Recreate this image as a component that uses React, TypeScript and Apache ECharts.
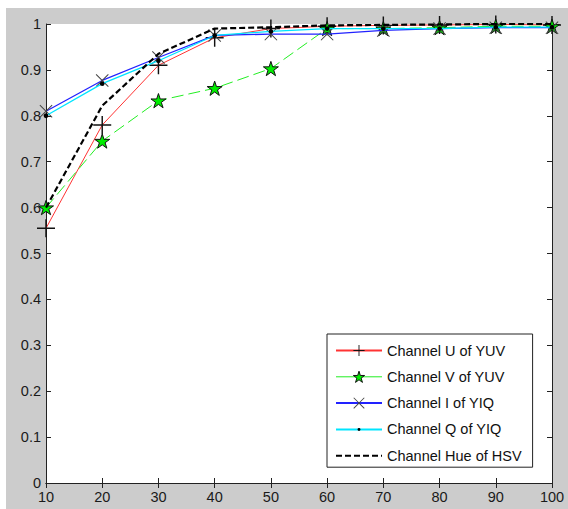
import React, { useEffect, useRef } from "react";
import * as echarts from "echarts";

const xValues = [10, 20, 30, 40, 50, 60, 70, 80, 90, 100];
const channelU = [0.555, 0.78, 0.91, 0.97, 0.99, 0.995, 0.997, 0.998, 0.999, 0.998];
const channelV = [0.6, 0.745, 0.833, 0.86, 0.903, 0.99, 0.99, 0.992, 0.995, 0.995];
const channelI = [0.81, 0.877, 0.927, 0.975, 0.978, 0.978, 0.986, 0.99, 0.992, 0.992];
const channelQ = [0.8, 0.87, 0.92, 0.975, 0.984, 0.99, 0.99, 0.99, 0.993, 0.993];
const channelHue = [0.6, 0.822, 0.935, 0.99, 0.993, 0.997, 0.998, 0.999, 1.0, 1.0];
const seriesNames = [
  "Channel U of YUV",
  "Channel V of YUV",
  "Channel I of YIQ",
  "Channel Q of YIQ",
  "Channel Hue of HSV",
];

const PLUS = "path://M-0.08,-1H0.08V-0.08H1V0.08H0.08V1H-0.08V0.08H-1V-0.08H-0.08Z";
const CROSS =
  "path://M-1,-0.89L-0.89,-1L0,-0.11L0.89,-1L1,-0.89L0.11,0L1,0.89L0.89,1L0,0.11L-0.89,1L-1,0.89L-0.11,0Z";
const STAR =
  "path://M0,-1L0.225,-0.309L0.951,-0.309L0.363,0.118L0.588,0.809L0,0.382L-0.588,0.809L-0.363,0.118L-0.951,-0.309L-0.225,-0.309Z";
const DOT =
  "path://M-1,-1L-1,-1ZM1,1L1,1ZM0,-0.27L0.19,-0.19L0.27,0L0.19,0.19L0,0.27L-0.19,0.19L-0.27,0L-0.19,-0.19Z";

const pairs = (ys: number[]) => xValues.map((x, i) => [x, ys[i]]);

export default function App() {
  const ref = useRef<HTMLDivElement>(null);
  useEffect(() => {
    if (!ref.current) return;
    const chart = echarts.init(ref.current, null, { renderer: "svg" });
    const font = "Liberation Sans, Arial, sans-serif";
    const mirrorAxis = {
      axisLine: { show: true, lineStyle: { color: "#222", width: 1 } },
      axisTick: { show: true, inside: true, length: 5, lineStyle: { color: "#222" } },
      axisLabel: { show: false },
      splitLine: { show: false },
    };
    chart.setOption({
      animation: false,
      backgroundColor: "#ffffff",
      graphic: [
        {
          type: "rect",
          z: -10,
          shape: { x: 6, y: 8, width: 562, height: 501 },
          style: { fill: "#cccccc" },
          silent: true,
        },
        {
          type: "rect",
          z: -9,
          shape: { x: 46, y: 24, width: 506, height: 459 },
          style: { fill: "#ffffff" },
          silent: true,
        },
      ],
      grid: { left: 46, top: 24, right: 16, bottom: 26, containLabel: false },
      xAxis: [
        {
          type: "value",
          min: 10,
          max: 100,
          interval: 10,
          axisLine: { show: true, onZero: false, lineStyle: { color: "#222", width: 1 } },
          axisTick: { show: true, inside: true, length: 5, lineStyle: { color: "#222" } },
          axisLabel: { color: "#1a1a1a", fontSize: 14.5, fontFamily: font, margin: 6 },
          splitLine: { show: false },
        },
        { type: "value", position: "top", min: 10, max: 100, interval: 10, ...mirrorAxis },
      ],
      yAxis: [
        {
          type: "value",
          min: 0,
          max: 1,
          interval: 0.1,
          axisLine: { show: true, onZero: false, lineStyle: { color: "#222", width: 1 } },
          axisTick: { show: true, inside: true, length: 5, lineStyle: { color: "#222" } },
          axisLabel: {
            color: "#1a1a1a",
            fontSize: 14.5,
            fontFamily: font,
            margin: 5,
            formatter: (v: number) => String(Math.round(v * 10) / 10),
          },
          splitLine: { show: false },
        },
        { type: "value", position: "right", min: 0, max: 1, interval: 0.1, ...mirrorAxis },
      ],
      legend: {
        orient: "vertical",
        left: 327,
        top: 334,
        itemWidth: 46,
        itemHeight: 14,
        itemGap: 11.3,
        padding: [9, 11, 4, 8],
        backgroundColor: "#ffffff",
        borderColor: "#222",
        borderWidth: 1,
        borderRadius: 0,
        textStyle: { fontSize: 14.5, color: "#111", fontFamily: font },
        data: [
          { name: seriesNames[0] },
          {
            name: seriesNames[1],
            lineStyle: { type: "solid", color: "#22ee22", width: 1 },
            itemStyle: { color: "#00ee00", borderColor: "#111", borderWidth: 1 },
          },
          { name: seriesNames[2] },
          { name: seriesNames[3] },
          { name: seriesNames[4], itemStyle: { opacity: 0 } },
        ],
      },
      series: [
        {
          name: seriesNames[0],
          type: "line",
          data: pairs(channelU),
          symbol: PLUS,
          symbolSize: 18,
          symbolKeepAspect: true,
          itemStyle: { color: "#111" },
          lineStyle: { color: "#ff3333", width: 1 },
          z: 2,
        },
        {
          name: seriesNames[1],
          type: "line",
          data: pairs(channelV),
          symbol: STAR,
          symbolSize: 15,
          symbolKeepAspect: true,
          itemStyle: { color: "#00ee00", borderColor: "#111", borderWidth: 1 },
          lineStyle: { color: "#22ee22", width: 1, type: [12, 5] },
          z: 3,
        },
        {
          name: seriesNames[2],
          type: "line",
          data: pairs(channelI),
          symbol: CROSS,
          symbolSize: 13,
          symbolKeepAspect: true,
          itemStyle: { color: "#444" },
          lineStyle: { color: "#2222ff", width: 1.3 },
          z: 4,
        },
        {
          name: seriesNames[3],
          type: "line",
          data: pairs(channelQ),
          symbol: DOT,
          symbolSize: 18,
          symbolKeepAspect: true,
          itemStyle: { color: "#000" },
          lineStyle: { color: "#00e5ff", width: 1.3 },
          z: 5,
        },
        {
          name: seriesNames[4],
          type: "line",
          data: pairs(channelHue),
          symbol: "none",
          itemStyle: { color: "#000" },
          lineStyle: { color: "#000", width: 2.2, type: [6, 3] },
          z: 6,
        },
      ],
    });
    return () => chart.dispose();
  }, []);
  return (
    <div
      ref={ref}
      style={{ position: "fixed", left: 0, top: 0, width: 568, height: 509 }}
    />
  );
}
